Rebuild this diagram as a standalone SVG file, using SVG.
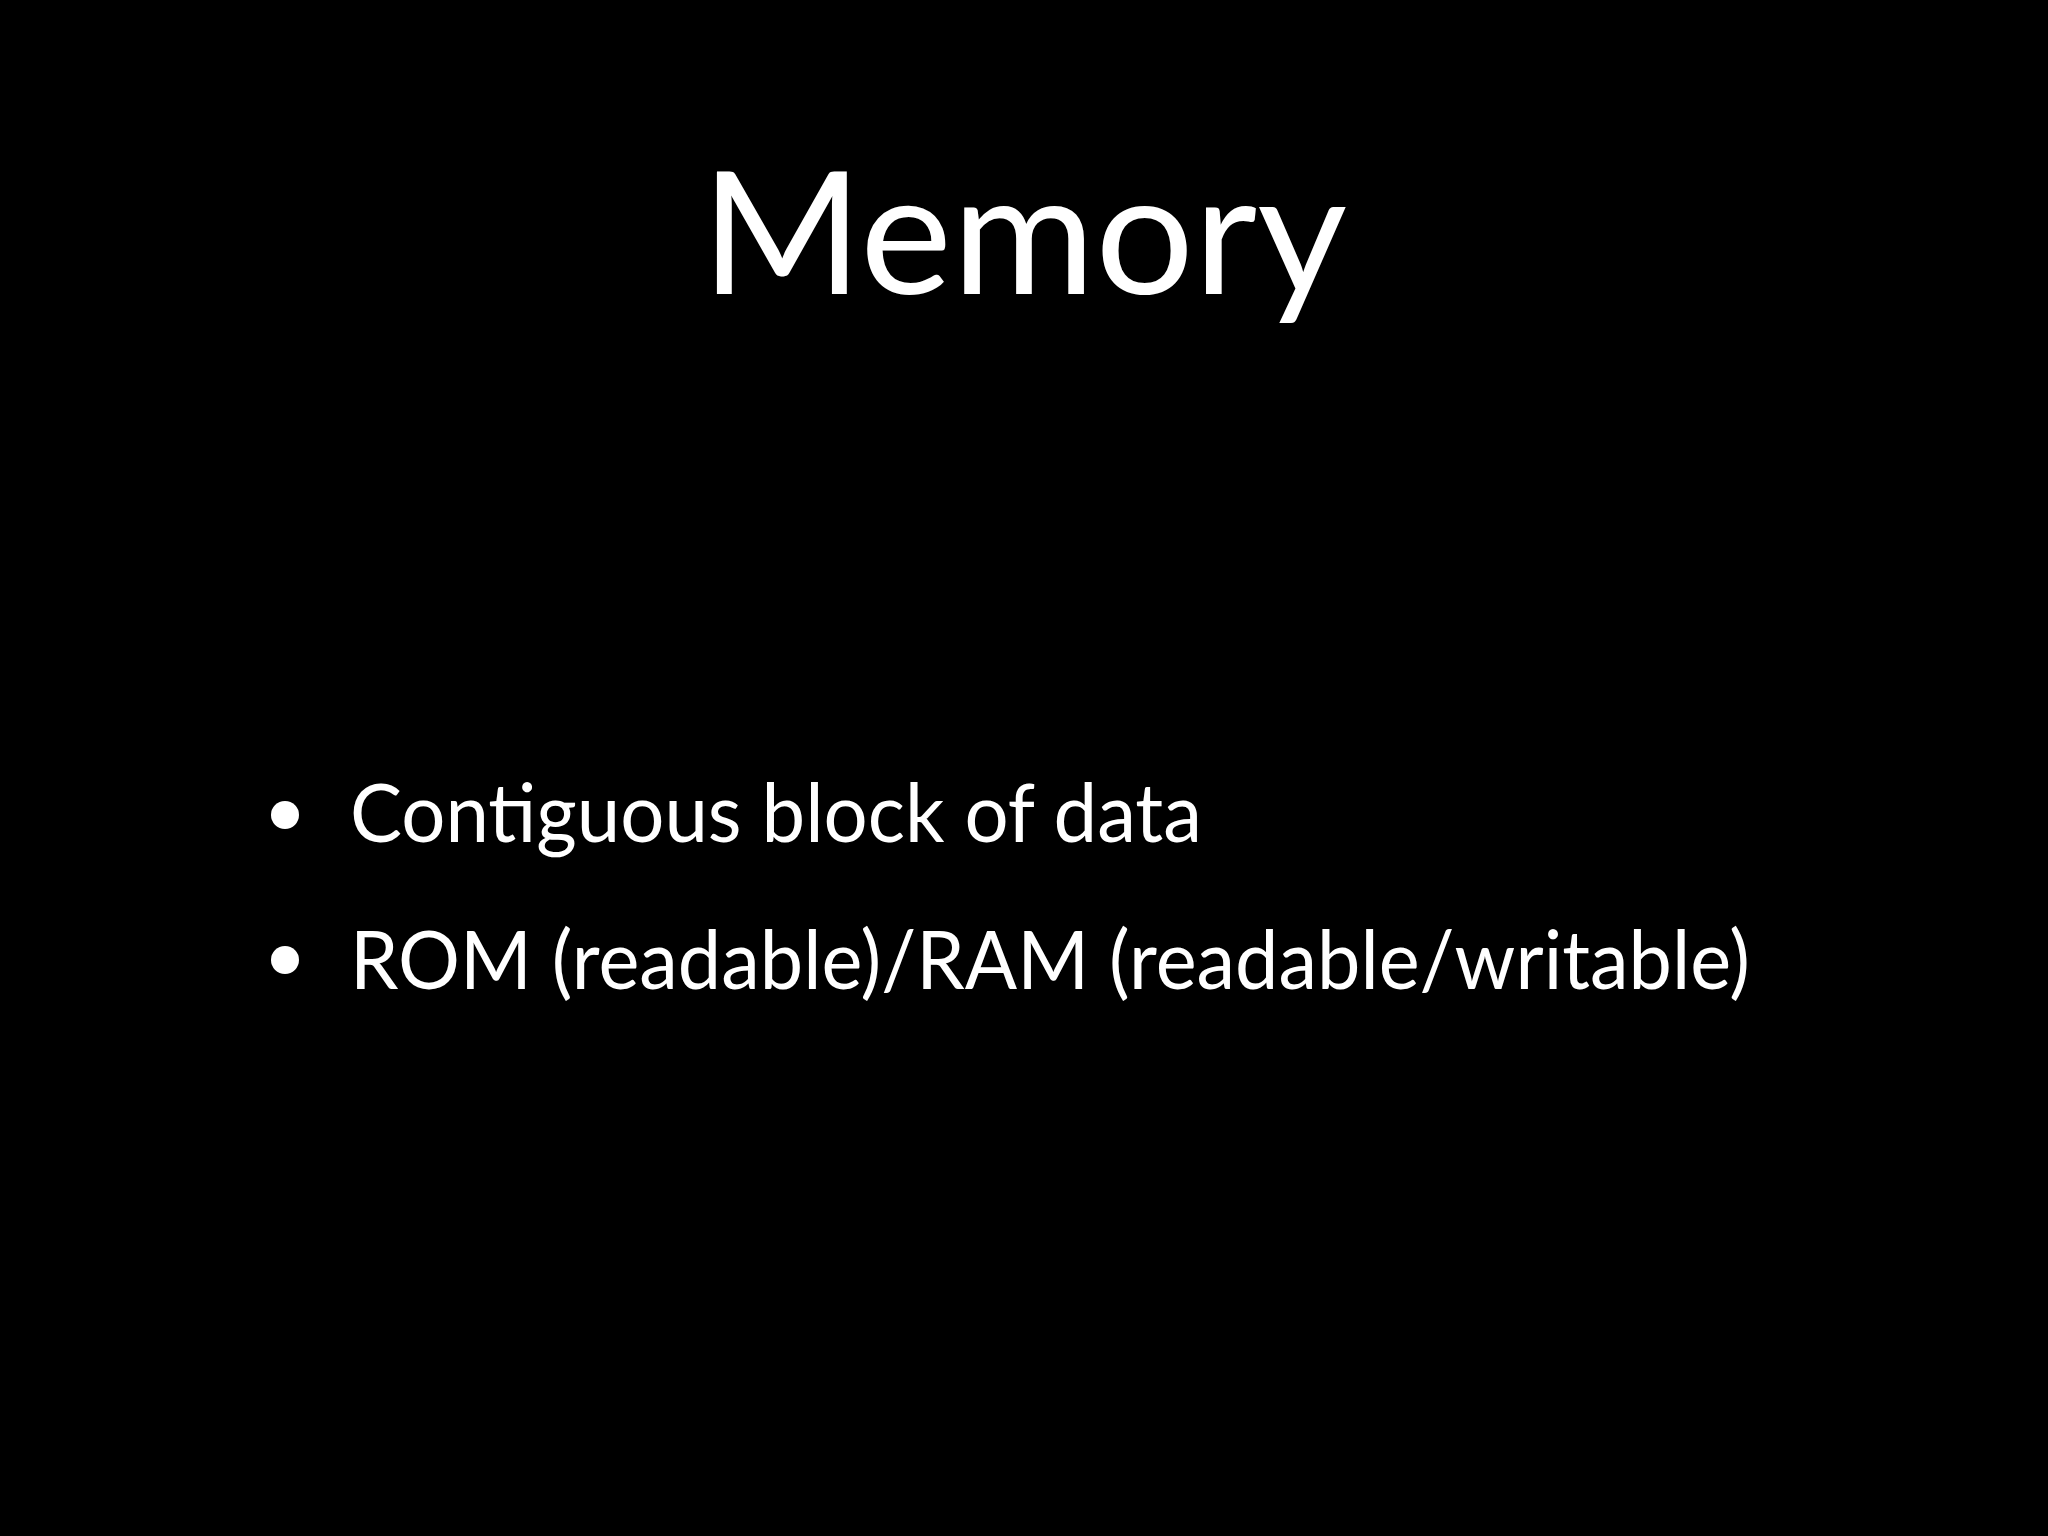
<svg xmlns="http://www.w3.org/2000/svg" width="2048" height="1536" viewBox="0 0 2048 1536">
<style>
text{fill:#fff;font-family:"Lato","Liberation Sans",sans-serif}
.t{font-size:170px}
.b{font-size:82px}
</style>
<rect width="2048" height="1536" fill="#000"/>
<g id="title"><text class="t" x="1024" y="294" text-anchor="middle" textLength="646" lengthAdjust="spacingAndGlyphs">Memory</text></g>
<g id="bullets">
<circle cx="285" cy="815" r="14" fill="#fff"/>
<text class="b" x="350" y="842" textLength="852" lengthAdjust="spacingAndGlyphs">Contiguous block of data</text>
<circle cx="285" cy="960" r="14" fill="#fff"/>
<text class="b" x="350" y="989" textLength="1400" lengthAdjust="spacingAndGlyphs">ROM (readable)/RAM (readable/writable)</text>
</g>
</svg>
